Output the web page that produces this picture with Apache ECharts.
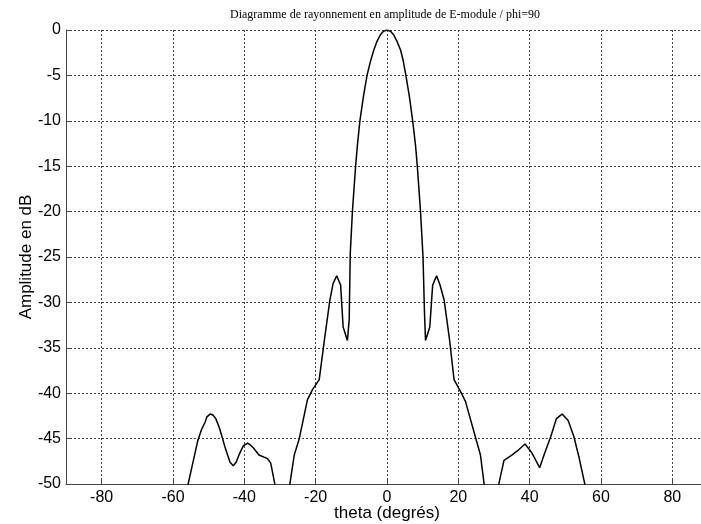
<!DOCTYPE html>
<html>
<head>
<meta charset="utf-8">
<script src="https://cdn.jsdelivr.net/npm/echarts@6/dist/echarts.min.js"></script>
<style>html,body{margin:0;padding:0;background:#fff;}#c{width:701px;height:524px;}</style>
</head>
<body>
<div id="c"></div>
<script>
const titleText = 'Diagramme de rayonnement en amplitude de E-module / phi=90';
const xTicks = [-80, -60, -40, -20, 0, 20, 40, 60, 80];
const theta = [-57, -55.7, -53.1, -52.0, -51.0, -50.5, -49.6, -48.8, -48.0, -47.0, -46.1, -45.3, -44.0, -43.1, -42.3, -41.5, -40.3, -39.1, -38.3, -37.5, -35.9, -33.5, -32.6, -31.5, -29.5, -27.2, -26.0, -24.6, -22.3, -20.9, -19.0, -17.5, -16.0, -15.1, -14.1, -13.0, -12.3, -11.1, -10.6, -10.3, -9.7, -8.8, -8.3, -7.6, -6.6, -5.6, -4.6, -3.7, -2.8, -1.9, -1.0, 0, 1.0, 1.9, 2.8, 3.8, 4.5, 5.3, 6.3, 7.2, 8.0, 8.5, 9.4, 10.1, 10.5, 10.8, 12.0, 12.8, 13.9, 14.8, 16.0, 17.5, 18.8, 20.6, 22.0, 26.2, 27.2, 29.3, 31.4, 32.8, 35.1, 37.0, 38.7, 40.5, 42.8, 44.3, 45.9, 47.5, 49.1, 50.8, 52.4, 53.8, 55.4, 57];
const amplitude = [-52, -49.9, -45.3, -44.0, -43.2, -42.6, -42.3, -42.4, -42.8, -43.8, -45.0, -46.1, -47.6, -48.0, -47.6, -46.8, -45.8, -45.5, -45.7, -46.0, -46.8, -47.2, -47.7, -49.9, -56, -49.9, -46.8, -45.0, -40.7, -39.6, -38.5, -34.0, -29.7, -27.9, -27.06, -28.1, -32.7, -34.2, -31.9, -24.6, -20, -15, -12.7, -10, -7.3, -5, -3.4, -2.2, -1.25, -0.55, -0.15, 0, -0.15, -0.55, -1.25, -2.2, -3.3, -5, -7.4, -10, -12.7, -15, -20, -25, -31, -34.2, -32.7, -28.1, -27.06, -28.0, -29.7, -34.0, -38.5, -39.8, -40.9, -46.8, -49.9, -56, -49.9, -47.4, -46.8, -46.2, -45.6, -46.5, -48.2, -46.5, -44.8, -42.8, -42.3, -43.0, -44.8, -47.0, -49.9, -52];

const data = theta.map((t, i) => [t, amplitude[i]]);
const chart = echarts.init(document.getElementById('c'));
chart.setOption({
  animation: false,
  backgroundColor: '#fff',
  title: {
    text: titleText,
    left: 380,
    textAlign: 'center',
    top: 4,
    textStyle: { fontFamily: 'Liberation Serif', fontSize: 12, fontWeight: 'normal', color: '#000' }
  },
  grid: { left: 66, right: -7, top: 30, bottom: 40, outerBoundsMode: 'none', containLabel: false },
  xAxis: {
    type: 'value', min: -90, max: 90,
    name: 'theta (degrés)', nameLocation: 'middle', nameGap: 21, nameMoveOverlap: false,
    nameTextStyle: { fontFamily: 'Liberation Sans', fontSize: 17, color: '#000' },
    axisLine: { show: true, onZero: false, lineStyle: { color: '#444', width: 1 } },
    axisTick: { show: true, inside: true, length: 5, customValues: xTicks, lineStyle: { color: '#444' } },
    axisLabel: { customValues: xTicks, fontFamily: 'Liberation Sans', fontSize: 16, color: '#000', margin: 6 },
    splitLine: { show: true, lineStyle: { color: '#444', type: [2, 2], width: 1 } }
  },
  yAxis: {
    type: 'value', min: -50, max: 0, interval: 5,
    name: 'Amplitude en dB', nameLocation: 'middle', nameGap: 31, nameMoveOverlap: false,
    nameTextStyle: { fontFamily: 'Liberation Sans', fontSize: 17, color: '#000' },
    axisLine: { show: true, onZero: false, lineStyle: { color: '#444', width: 1 } },
    axisTick: { show: true, inside: true, length: 5, lineStyle: { color: '#444' } },
    axisLabel: { fontFamily: 'Liberation Sans', fontSize: 16, color: '#000', margin: 5 },
    splitLine: { show: true, lineStyle: { color: '#444', type: [2, 2], width: 1 } }
  },
  series: [{
    type: 'line', data: data, showSymbol: false, clip: true,
    lineStyle: { color: '#000', width: 1.5 }
  }]
});
</script>
</body>
</html>
